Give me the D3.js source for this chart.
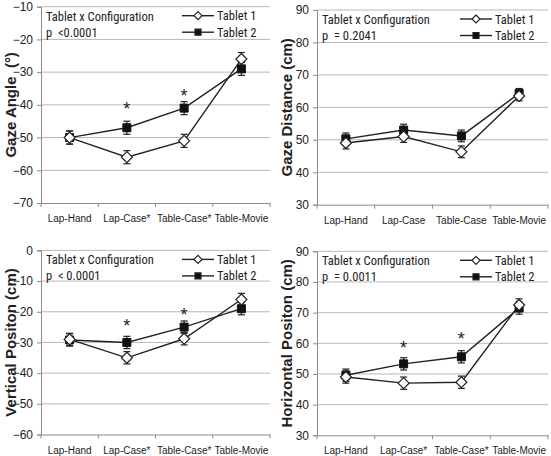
<!DOCTYPE html>
<html lang="en">
<head>
<meta charset="UTF-8">
<script src="https://d3js.org/d3.v7.min.js"></script>
<style>
  body { margin: 0; background: #fff; }
  svg { font-family: "Liberation Sans Narrow", "Roboto Condensed", "Liberation Sans", Arial, sans-serif; }
  text { white-space: pre; }
</style>
<title>Tablet x Configuration</title>
</head>
<body>
<div class="canvas"></div>
<script>
const categoriesStar = ['Lap-Hand', 'Lap-Case*', 'Table-Case*', 'Table-Movie']
const categoriesPlain = ['Lap-Hand', 'Lap-Case', 'Table-Case', 'Table-Movie']
const seriesNames = ['Tablet 1', 'Tablet 2']

const angleT1 = [-50, -56, -51, -26]
const angleT2 = [-50, -47, -41, -29]
const angleErr = [2, 2, 2, 2]
const angleStars = [null, -40.5, -36.5, null]

const distT1 = [49, 51, 46.3, 63.5]
const distT2 = [50.3, 53, 51.2, 64.3]
const distErr = [1.8, 1.8, 1.8, 1.5]
const distStars = [null, null, null, null]

const vertT1 = [-29, -35, -28.8, -16]
const vertT2 = [-29.2, -30, -25, -19]
const vertErr = [2, 2, 2, 2]
const vertStars = [null, -23.5, -20, null]

const horzT1 = [49, 47, 47.3, 72.5]
const horzT2 = [49.6, 53.3, 55.6, 71.5]
const horzErr = [2, 2, 2, 2]
const horzStars = [null, 59.5, 62.5, null]

const panels = [
  { title: 'Gaze Angle  (°)', pText: 'p  <0.0001', cats: categoriesStar, t1: angleT1, t2: angleT2, err: angleErr, stars: angleStars,
    domain: [-70, -10], ticks: [-70, -60, -50, -40, -30, -20, -10], box: [41, 6.7, 270, 203] },
  { title: 'Gaze Distance (cm)', pText: 'p  = 0.2041', cats: categoriesPlain, t1: distT1, t2: distT2, err: distErr, stars: distStars,
    domain: [30, 90], ticks: [30, 40, 50, 60, 70, 80, 90], box: [317, 10, 548, 204.7] },
  { title: 'Vertical Positon (cm)', pText: 'p  < 0.0001', cats: categoriesStar, t1: vertT1, t2: vertT2, err: vertErr, stars: vertStars,
    domain: [-60, 0], ticks: [-60, -50, -40, -30, -20, -10, 0], box: [41, 250.4, 270, 434.5] },
  { title: 'Horizontal Positon (cm)', pText: 'p  = 0.0011', cats: categoriesStar, t1: horzT1, t2: horzT2, err: horzErr, stars: horzStars,
    domain: [30, 90], ticks: [30, 40, 50, 60, 70, 80, 90], box: [317, 251.3, 548, 435.3] }
]

// open diamond drawn as a square rotated 45 degrees
const diamond = r => `M0,${-r}L${r},0L0,${r}L${-r},0Z`
const wide = '"Liberation Sans", Arial, sans-serif'

const svg = d3.select('.canvas').append('svg')
  .attr('width', 551).attr('height', 456)

panels.forEach(p => {
  const [x0, y0, x1, y1] = p.box
  const g = svg.append('g')

  const x = d3.scaleBand().domain(p.cats).range([x0, x1])
  const y = d3.scaleLinear().domain(p.domain).range([y1, y0])

  // grid
  g.selectAll('.grid').data(p.ticks.slice(1)).enter().append('line')
    .attr('x1', x0).attr('x2', x1)
    .attr('y1', d => y(d)).attr('y2', d => y(d))
    .attr('stroke', '#b8b8b8').attr('stroke-width', 1)

  // y axis
  const yAxis = d3.axisLeft(y).tickValues(p.ticks).tickSize(4).tickPadding(4)
  const yG = g.append('g').attr('transform', `translate(${x0},0)`).call(yAxis)
  yG.select('.domain').attr('stroke', '#8c8c8c')
  yG.selectAll('.tick line').attr('stroke', '#8c8c8c')
  yG.selectAll('text').attr('fill', '#222')
    .style('font-family', wide).style('font-size', '12px')

  // x axis
  const xAxis = d3.axisBottom(x).tickSize(0).tickPadding(12)
  const xG = g.append('g').attr('transform', `translate(0,${y1})`).call(xAxis)
  xG.select('.domain').attr('stroke', '#8c8c8c')
  xG.selectAll('text').attr('fill', '#222').style('font-size', '10px')
  g.selectAll('.xtick').data(p.cats.concat(['end'])).enter().append('line')
    .attr('x1', (d, i) => x0 + i * x.bandwidth()).attr('x2', (d, i) => x0 + i * x.bandwidth())
    .attr('y1', y1).attr('y2', y1 + 4)
    .attr('stroke', '#8c8c8c')

  // y title
  g.append('text')
    .attr('transform', `translate(${x0 - 25},${(y0 + y1) / 2}) rotate(-90)`)
    .attr('text-anchor', 'middle')
    .style('font-family', wide)
    .style('font-size', '15px').style('font-weight', 'bold').attr('fill', '#222')
    .text(p.title)

  // annotation
  g.append('text').attr('x', x0 + 5).attr('y', y0 + 14)
    .style('font-size', '12.5px').attr('fill', '#222').text('Tablet x Configuration')
  g.append('text').attr('x', x0 + 5).attr('y', y0 + 30)
    .style('font-size', '12.5px').attr('fill', '#222').text(p.pText)

  const cx = d => x(d) + x.bandwidth() / 2
  const line = d3.line().x(d => cx(d.c)).y(d => y(d.v))

  const series = [p.t2, p.t1]
  series.forEach(vals => {
    const pts = p.cats.map((c, i) => ({ c, v: vals[i], e: p.err[i] }))
    g.append('path').attr('d', line(pts))
      .attr('fill', 'none').attr('stroke', '#222').attr('stroke-width', 1.4)
    const eb = g.selectAll(null).data(pts).enter().append('g')
    eb.append('line')
      .attr('x1', d => cx(d.c)).attr('x2', d => cx(d.c))
      .attr('y1', d => y(d.v - d.e)).attr('y2', d => y(d.v + d.e))
      .attr('stroke', '#222').attr('stroke-width', 1.2)
    eb.append('line')
      .attr('x1', d => cx(d.c) - 3.5).attr('x2', d => cx(d.c) + 3.5)
      .attr('y1', d => y(d.v - d.e)).attr('y2', d => y(d.v - d.e))
      .attr('stroke', '#222').attr('stroke-width', 1.2)
    eb.append('line')
      .attr('x1', d => cx(d.c) - 3.5).attr('x2', d => cx(d.c) + 3.5)
      .attr('y1', d => y(d.v + d.e)).attr('y2', d => y(d.v + d.e))
      .attr('stroke', '#222').attr('stroke-width', 1.2)
  })
  // markers
  const sym2 = d3.symbol().type(d3.symbolSquare).size(64)
  g.selectAll(null).data(p.cats.map((c, i) => ({ c, v: p.t2[i] }))).enter().append('path')
    .attr('d', sym2).attr('transform', d => `translate(${cx(d.c)},${y(d.v)})`)
    .attr('fill', '#111').attr('stroke', '#111')
  g.selectAll(null).data(p.cats.map((c, i) => ({ c, v: p.t1[i] }))).enter().append('path')
    .attr('d', diamond(5.5)).attr('transform', d => `translate(${cx(d.c)},${y(d.v)})`)
    .attr('fill', '#fff').attr('stroke', '#222').attr('stroke-width', 1.2)

  // stars
  g.selectAll(null).data(p.cats.map((c, i) => ({ c, v: p.stars[i] })).filter(d => d.v !== null)).enter()
    .append('text')
    .attr('x', d => cx(d.c)).attr('y', d => y(d.v) + 9)
    .attr('text-anchor', 'middle').style('font-size', '18px').attr('fill', '#222')
    .style('font-family', wide)
    .text('*')

  // legend
  const lx = x1 - 88
  seriesNames.forEach((name, i) => {
    const ly = y0 + 9 + i * 16.5
    g.append('line').attr('x1', lx).attr('x2', lx + 32).attr('y1', ly).attr('y2', ly)
      .attr('stroke', '#222').attr('stroke-width', 1.4)
    g.append('path').attr('d', i === 0 ? diamond(4) : d3.symbol().type(d3.symbolSquare).size(36)())
      .attr('transform', `translate(${lx + 16},${ly})`)
      .attr('fill', i === 0 ? '#fff' : '#111').attr('stroke', '#222').attr('stroke-width', 1.2)
    g.append('text').attr('x', lx + 35).attr('y', ly + 4.5)
      .style('font-size', '12.5px').attr('fill', '#222').text(name)
  })
})
</script>
</body>
</html>
